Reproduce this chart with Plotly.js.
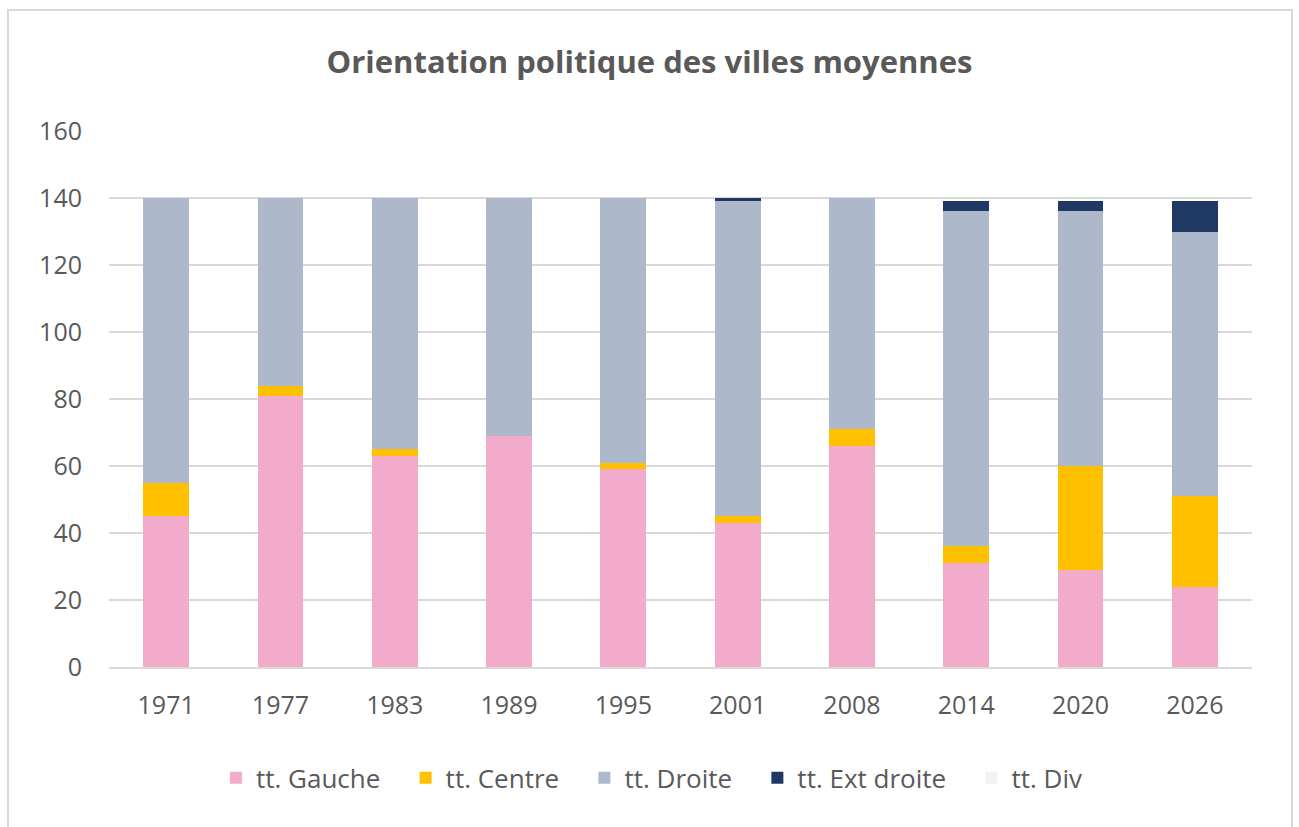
<!DOCTYPE html>
<html>
<head>
<meta charset="utf-8">
<script src="https://cdn.plot.ly/plotly-3.0.1.min.js"></script>
<style>
  html, body { margin:0; padding:0; background:#fff; }
  #wrap { position:relative; width:1299px; height:827px; }
  #chart { position:absolute; left:0; top:0; width:1299px; height:827px; }
  #frame { position:absolute; left:7px; top:9px; width:1286px; height:830px; border:2px solid #D9D9D9; pointer-events:none; box-sizing:border-box; }
</style>
</head>
<body>
<div id="wrap">
  <div id="chart"></div>
  <div id="frame"></div>
</div>
<script>
const years = ["1971","1977","1983","1989","1995","2001","2008","2014","2020","2026"];
const gauche = [45, 81, 63, 69, 59, 43, 66, 31, 29, 24];
const centre = [10, 3, 2, 0, 2, 2, 5, 5, 31, 27];
const droite = [85, 56, 75, 71, 79, 94, 69, 100, 76, 79];
const extDroite = [0, 0, 0, 0, 0, 1, 0, 3, 3, 9];
const div = [0, 0, 0, 0, 0, 0, 0, 0, 0, 0];
const seriesNames = ["tt. Gauche", "tt. Centre", "tt. Droite", "tt. Ext droite", "tt. Div"];
const yTicks = [0, 20, 40, 60, 80, 100, 120, 140, 160];

const colors = ["#F3ABCC", "#FFC000", "#ADB9CA", "#203864", "#F2F2F2"];
const seriesData = [gauche, centre, droite, extDroite, div];
const FONT = "'Open Sans', Lato, sans-serif";
const PAD = "\u00a0\u00a0\u00a0";

const traces = seriesData.map((vals, i) => ({
  type: "bar",
  name: seriesNames[i] + (i < seriesNames.length - 1 ? PAD : ""),
  x: years,
  y: vals,
  marker: { color: colors[i], line: { width: 0 } },
  hoverinfo: "x+y+name"
}));

const layout = {
  width: 1299,
  height: 827,
  barmode: "stack",
  bargap: 0.6,
  paper_bgcolor: "#ffffff",
  plot_bgcolor: "#ffffff",
  margin: { l: 109, r: 47, t: 131, b: 160 },
  title: {
    text: "<b>Orientation politique des villes moyennes</b>",
    font: { family: FONT, size: 31, color: "#595959" },
    x: 0.5, xanchor: "center",
    y: 1 - 62/827, yanchor: "middle", yref: "container"
  },
  xaxis: {
    type: "category",
    tickfont: { family: FONT, size: 25, color: "#595959" },
    showgrid: false,
    showline: true,
    linecolor: "#D9D9D9",
    linewidth: 2,
    ticks: "",
    ticklabelstandoff: 15,
    fixedrange: true
  },
  yaxis: {
    range: [0, 160],
    tickvals: yTicks,
    ticktext: yTicks.map(String),
    tickfont: { family: FONT, size: 25, color: "#595959" },
    showgrid: true,
    gridcolor: "#D9D9D9",
    gridwidth: 2,
    zeroline: false,
    showline: false,
    ticks: "",
    ticklabelstandoff: 26,
    fixedrange: true
  },
  showlegend: true,
  legend: {
    orientation: "h",
    x: 0.475, xanchor: "center",
    y: -0.207, yanchor: "middle",
    font: { family: FONT, size: 26, color: "#595959" },
    traceorder: "normal",
    itemclick: false
  }
};

Plotly.newPlot("chart", traces, layout, { displayModeBar: false, staticPlot: true });
</script>
</body>
</html>
